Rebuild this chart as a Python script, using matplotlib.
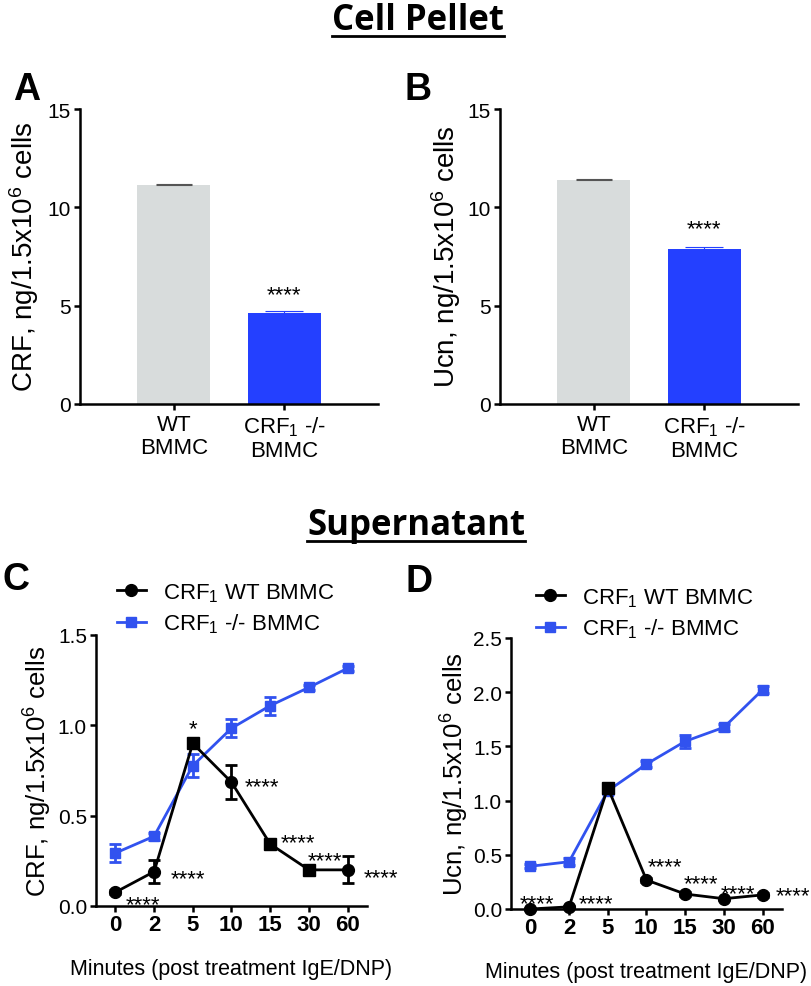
import matplotlib
matplotlib.use("Agg")
import matplotlib.pyplot as plt
from matplotlib.lines import Line2D

plt.rcParams["font.family"] = ["Liberation Sans", "DejaVu Sans"]
plt.rcParams["mathtext.fontset"] = "custom"
plt.rcParams["mathtext.rm"] = "Liberation Sans"
plt.rcParams["mathtext.it"] = "Liberation Sans:italic"
plt.rcParams["mathtext.bf"] = "Liberation Sans:bold"

# ---- data ----
bar_groups = ["WT\nBMMC", "CRF$_1$ -/-\nBMMC"]
crf_pellet = [11.15, 4.65]
crf_pellet_err = [0.03, 0.10]
ucn_pellet = [11.38, 7.90]
ucn_pellet_err = [0.05, 0.10]

minutes = ["0", "2", "5", "10", "15", "30", "60"]
crf_wt = [0.076, 0.19, 0.90, 0.685, 0.343, 0.20, 0.20]
crf_wt_err = [0.01, 0.065, 0.02, 0.095, 0.015, 0.015, 0.075]
crf_ko = [0.293, 0.386, 0.777, 0.984, 1.109, 1.21, 1.316]
crf_ko_err = [0.05, 0.02, 0.065, 0.05, 0.05, 0.015, 0.015]
ucn_wt = [0.0, 0.02, 1.12, 0.267, 0.138, 0.095, 0.13]
ucn_wt_err = [0.01, 0.01, 0.04, 0.02, 0.02, 0.01, 0.02]
ucn_ko = [0.394, 0.436, 1.09, 1.337, 1.547, 1.676, 2.023]
ucn_ko_err = [0.02, 0.03, 0.03, 0.03, 0.06, 0.03, 0.03]

crf_wt_markers = ["o", "o", "s", "o", "s", "s", "o"]
ucn_wt_markers = ["o", "o", "s", "o", "o", "o", "o"]

# significance labels: index -> (text, dx px, dy px) relative to WT point
crf_stars = {0: ("****", 28, -5), 1: ("****", 34, 0), 2: ("*", 0, 22),
             3: ("****", 30, 3), 4: ("****", 28, 9), 5: ("****", 16, 17),
             6: ("****", 33, 0)}
ucn_stars = {0: ("****", 7, 13), 1: ("****", 27, 11), 3: ("****", 18, 21),
             4: ("****", 16, 18), 5: ("****", 14, 13), 6: ("****", 30, 7)}

GREY = "#d8dcdc"
BAR_BLUE = "#2440ff"
LINE_BLUE = "#3152ef"

W, H = 812, 987
PT = 100 / 72


def rect(left, top, right, bottom):
    return [left / W, 1 - bottom / H, (right - left) / W, (bottom - top) / H]


def style_axes(ax):
    for s in ["top", "right"]:
        ax.spines[s].set_visible(False)
    for s in ["left", "bottom"]:
        ax.spines[s].set_linewidth(1.8)
    ax.tick_params(width=1.8, length=4.5)


def star(ax, x, y, txt, dx, dy):
    ax.annotate(txt, xy=(x, y), xytext=(dx / PT, (dy - 13) / PT),
                textcoords="offset points", ha="center", va="baseline",
                fontsize=16, annotation_clip=False)


fig = plt.figure(figsize=(W / 100, H / 100), dpi=100)


def bar_panel(r, values, errs, ylabel, label_x, star_dy):
    ax = fig.add_axes(r)
    style_axes(ax)
    x = [0, 1]
    ax.bar(x, values, width=0.66, color=[GREY, BAR_BLUE], zorder=2)
    ax.errorbar(x[0], values[0], yerr=[[0], [errs[0]]], color="#555555",
                capsize=13, elinewidth=0.8, capthick=0.8, fmt="none")
    ax.errorbar(x[1], values[1], yerr=[[0], [errs[1]]], color=BAR_BLUE,
                capsize=14, elinewidth=0.8, capthick=0.8, fmt="none")
    ax.set_xlim(-0.85, 1.85)
    ax.set_ylim(0, 15)
    ax.set_yticks([0, 5, 10, 15])
    ax.set_xticks(x)
    ax.set_xticklabels(bar_groups, fontsize=16, linespacing=1.1)
    ax.tick_params(axis="y", labelsize=15, pad=2)
    ax.tick_params(axis="x", pad=3)
    star(ax, 1, values[1] + errs[1], "****", 0, star_dy)
    fig.text(label_x / W, 1 - 257 / H, ylabel, rotation=90, ha="center",
             va="center", fontsize=20)
    return ax


bar_panel(rect(80, 110, 378, 405), crf_pellet, crf_pellet_err,
          "CRF, ng/1.5x10$^6$ cells", 24, 23)
bar_panel(rect(500, 110, 798, 405), ucn_pellet, ucn_pellet_err,
          "Ucn, ng/1.5x10$^6$ cells", 446, 25)


def line_panel(r, wt, wt_err, ko, ko_err, wt_markers, stars, ymax,
               ylabel, label_x, legend_xy):
    ax = fig.add_axes(r)
    style_axes(ax)
    x = list(range(len(minutes)))
    ax.errorbar(x, ko, yerr=ko_err, color=LINE_BLUE, lw=2, marker="s",
                ms=7.5, capsize=4.3, capthick=2, elinewidth=2,
                clip_on=False, zorder=3)
    ax.errorbar(x, wt, yerr=wt_err, color="black", lw=2, fmt="-",
                capsize=4.3, capthick=2, elinewidth=2, clip_on=False,
                zorder=4)
    for xi, yi, m in zip(x, wt, wt_markers):
        ax.plot(xi, yi, marker=m, color="black",
                ms=8.5 if m == "o" else 8, clip_on=False, zorder=5)
    for i, (txt, dx, dy) in stars.items():
        star(ax, i, wt[i], txt, dx, dy)
    n = int(ymax / 0.5) + 1
    ax.set_xlim(-0.5, 6.5)
    ax.set_ylim(0, ymax)
    ax.set_yticks([v * 0.5 for v in range(n)])
    ax.set_yticklabels([f"{v * 0.5:.1f}" for v in range(n)])
    ax.set_xticks(x)
    ax.set_xticklabels(minutes, fontsize=16, fontweight="bold")
    ax.tick_params(axis="y", labelsize=15, pad=2)
    ax.tick_params(axis="x", pad=1.5)
    ax.set_xlabel("Minutes (post treatment IgE/DNP)", fontsize=15.5,
                  labelpad=16)
    bbox = ax.get_position()
    fig.text(label_x / W, bbox.y0 + bbox.height / 2, ylabel, rotation=90,
             ha="center", va="center", fontsize=18.5)
    handles = [
        Line2D([], [], color="black", lw=2, marker="o", ms=8.5),
        Line2D([], [], color=LINE_BLUE, lw=2, marker="s", ms=7.5),
    ]
    fig.legend(handles, ["CRF$_1$ WT BMMC", "CRF$_1$ -/- BMMC"],
               loc="center left", bbox_to_anchor=(legend_xy[0] / W,
                                                  1 - legend_xy[1] / H),
               frameon=False, fontsize=16, borderpad=0, borderaxespad=0,
               handlelength=1.3, handletextpad=0.75, labelspacing=0.35)
    return ax


line_panel(rect(96, 636, 367, 907), crf_wt, crf_wt_err, crf_ko, crf_ko_err,
           crf_wt_markers, crf_stars, 1.5, "CRF, ng/1.5x10$^6$ cells", 38,
           (117, 609))
line_panel(rect(511, 639, 782, 910), ucn_wt, ucn_wt_err, ucn_ko, ucn_ko_err,
           ucn_wt_markers, ucn_stars, 2.5, "Ucn, ng/1.5x10$^6$ cells", 455,
           (536, 614))

# panel letters
for letter, px, py in [("A", 13, 100), ("B", 405, 100), ("C", 3, 590),
                       ("D", 406, 592)]:
    fig.text(px / W, 1 - py / H, letter, fontsize=27, fontweight="bold",
             ha="left", va="baseline")

# section headings with underline
renderer = fig.canvas.get_renderer()
for title, cx, base, uline in [("Cell Pellet", 418, 30, 37),
                               ("Supernatant", 416, 535, 542)]:
    t = fig.text(cx / W, 1 - base / H, title, fontsize=25, fontweight="bold",
                 family="Open Sans", ha="center", va="baseline")
    ext = t.get_window_extent(renderer)
    fig.add_artist(Line2D([ext.x0 / W, ext.x1 / W],
                          [1 - uline / H, 1 - uline / H], color="black",
                          lw=2, transform=fig.transFigure))

fig.savefig("out.png", dpi=100, facecolor="white")
